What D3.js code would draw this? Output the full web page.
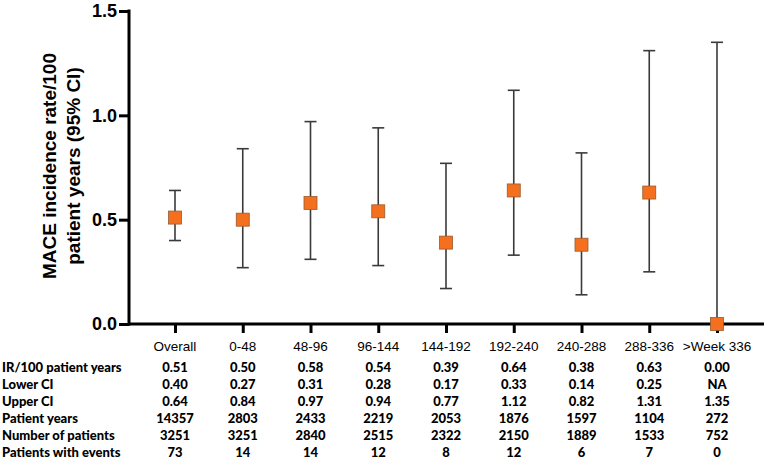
<!DOCTYPE html>
<html><head><meta charset="utf-8">
<script src="https://cdn.jsdelivr.net/npm/d3@7"></script>
<style>body{margin:0;background:#fff}svg{display:block}</style>
</head><body>
<svg id="c" width="764" height="460"></svg>
<script>
const categories = ["Overall","0-48","48-96","96-144","144-192","192-240","240-288","288-336",">Week 336"];
const rate = [0.51,0.50,0.58,0.54,0.39,0.64,0.38,0.63,0.00];
const lower = [0.40,0.27,0.31,0.28,0.17,0.33,0.14,0.25,null];
const upper = [0.64,0.84,0.97,0.94,0.77,1.12,0.82,1.31,1.35];
const patientYears = [14357,2803,2433,2219,2053,1876,1597,1104,272];
const nPatients = [3251,3251,2840,2515,2322,2150,1889,1533,752];
const nEvents = [73,14,14,12,8,12,6,7,0];
const yTicks = [0,0.5,1.0,1.5];
const rowLabels = ["IR/100 patient years","Lower CI","Upper CI","Patient years","Number of patients","Patients with events"];

const fmt2 = d3.format(".2f");
const rows = [
  rate.map(fmt2),
  lower.map(v => v == null ? "NA" : fmt2(v)),
  upper.map(fmt2),
  patientYears.map(String),
  nPatients.map(String),
  nEvents.map(String)
];

const svg = d3.select("#c");
const x = d3.scalePoint().domain(categories).range([175, 717]);
const y = d3.scaleLinear().domain([0, 1.5]).range([324, 11]);
const axisX0 = 129;

// error bars
const g = svg.append("g");
categories.forEach((c, i) => {
  const cx = x(c);
  const lo = lower[i] == null ? rate[i] : lower[i];
  g.append("line").attr("x1", cx).attr("x2", cx).attr("y1", y(lo)).attr("y2", y(upper[i]))
    .attr("stroke", "#3a3a3a").attr("stroke-width", 1.6);
  g.append("line").attr("x1", cx - 6).attr("x2", cx + 6).attr("y1", y(upper[i])).attr("y2", y(upper[i]))
    .attr("stroke", "#3a3a3a").attr("stroke-width", 1.6);
  if (lower[i] != null) {
    g.append("line").attr("x1", cx - 6).attr("x2", cx + 6).attr("y1", y(lower[i])).attr("y2", y(lower[i]))
      .attr("stroke", "#3a3a3a").attr("stroke-width", 1.6);
  }
});

// axes
const yAxis = svg.append("g").attr("transform", `translate(${axisX0},0)`)
  .call(d3.axisLeft(y).tickValues(yTicks).tickFormat(d3.format(".1f")).tickSize(10).tickPadding(2));
const xAxis = svg.append("g").attr("transform", `translate(0,${y(0)})`)
  .call(d3.axisBottom(x).tickSize(9).tickFormat(""));
[yAxis, xAxis].forEach(a => {
  a.select(".domain").remove();
  a.selectAll(".tick line").attr("stroke", "#000").attr("stroke-width", 3);
});
yAxis.selectAll(".tick text").attr("fill", "#000")
  .style("font-family", "'Liberation Sans', Arial, sans-serif").style("font-weight", "bold").style("font-size", "18px");
svg.append("line").attr("x1", axisX0).attr("x2", axisX0).attr("y1", y(1.5) - 1.5).attr("y2", y(0) + 1.5)
  .attr("stroke", "#000").attr("stroke-width", 3);
svg.append("line").attr("x1", axisX0).attr("x2", 764).attr("y1", y(0)).attr("y2", y(0))
  .attr("stroke", "#000").attr("stroke-width", 3);

// markers
svg.append("g").selectAll("rect").data(categories).join("rect")
  .attr("x", d => x(d) - 6.5).attr("y", (d, i) => y(rate[i]) - 6.5)
  .attr("width", 13).attr("height", 13)
  .attr("fill", "#F5701E").attr("stroke", "#9a5a30").attr("stroke-width", 0.8);

// category labels
svg.append("g").selectAll("text").data(categories).join("text")
  .attr("x", d => x(d)).attr("y", 346).attr("text-anchor", "middle").attr("dominant-baseline", "central")
  .style("font-family", "'Liberation Sans', Arial, sans-serif").style("font-size", "13.5px").attr("fill", "#000")
  .text(d => d);

// table
const rowY = [366.5, 383.5, 400.5, 417.5, 434.5, 451.5];
const tbl = svg.append("g").style("font-family", "Lato, 'Open Sans', sans-serif").style("font-weight", "900")
  .style("font-size", "13px").attr("fill", "#000");
rowLabels.forEach((lab, r) => {
  tbl.append("text").attr("x", 2).attr("y", rowY[r]).attr("dominant-baseline", "central").text(lab);
  categories.forEach((c, i) => {
    tbl.append("text").attr("x", x(c)).attr("y", rowY[r]).attr("text-anchor", "middle")
      .attr("dominant-baseline", "central").text(rows[r][i]);
  });
});

// y label
const yl = svg.append("text").attr("transform", "translate(0,166) rotate(-90)")
  .attr("text-anchor", "middle")
  .style("font-family", "'Liberation Sans', Arial, sans-serif").style("font-weight", "bold").style("font-size", "19px")
  .attr("fill", "#000");
yl.append("tspan").attr("x", 0).attr("y", 56).text("MACE incidence rate/100");
yl.append("tspan").attr("x", 0).attr("y", 80).text("patient years (95% CI)");
</script>
</body></html>
